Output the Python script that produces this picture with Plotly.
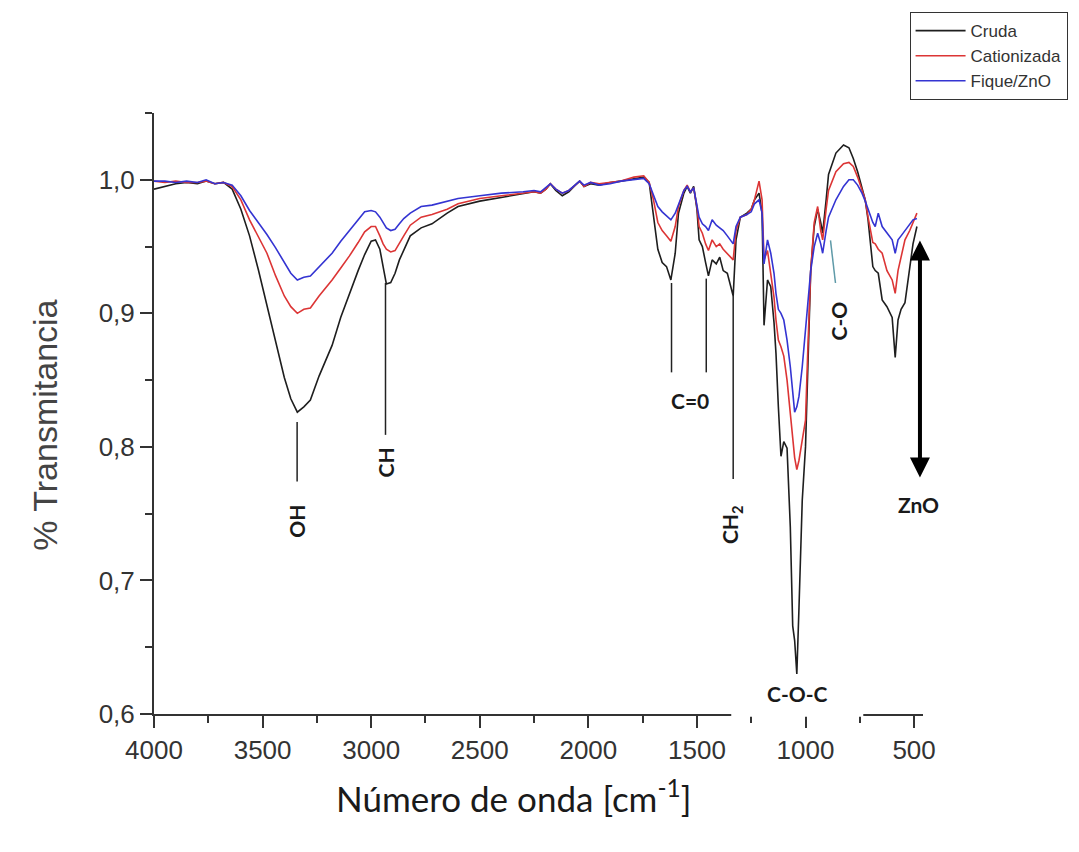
import plotly.graph_objects as go

# ---------------- data ----------------
wavenumber = [4000, 3950, 3900, 3850, 3800, 3760, 3720, 3680, 3640, 3600,
              3560, 3520, 3480, 3440, 3400, 3370, 3340, 3310, 3280, 3240,
              3180, 3140, 3100, 3060, 3030, 3000, 2980, 2960, 2945, 2930,
              2910, 2890, 2870, 2850, 2820, 2770, 2720, 2650, 2600, 2500,
              2400, 2300, 2250, 2220, 2195, 2175, 2150, 2120, 2090, 2060,
              2040, 2020, 1990, 1950, 1900, 1850, 1790, 1745, 1720, 1700,
              1680, 1660, 1640, 1620, 1600, 1585, 1560, 1545, 1530, 1515,
              1500, 1490, 1475, 1460, 1447, 1430, 1411, 1395, 1379, 1360,
              1345, 1333, 1320, 1300, 1270, 1250, 1235, 1214, 1200, 1191,
              1175, 1160, 1145, 1136, 1125, 1113, 1100, 1085, 1070, 1059,
              1050, 1040, 1030, 1015, 1000, 990, 976, 960, 944, 930,
              921, 905, 894, 860, 825, 800, 780, 760, 740, 725,
              712, 701, 690, 679, 665, 647, 625, 601, 587, 574,
              560, 542, 520, 505, 487]

cruda = [.993, .995, .997, .998, .997, .999, .997, .998, .993, .978,
         .958, .933, .906, .878, .852, .836, .826, .830, .835, .853,
         .876, .897, .915, .932, .944, .954, .955, .948, .935, .922,
         .923, .930, .940, .947, .958, .964, .967, .975, .980, .984,
         .987, .990, .991, .990, .993, .997, .992, .988, .991, .996,
         .999, .995, .997, .996, .998, .999, 1.001, 1.002, .998, .975,
         .948, .938, .935, .925, .945, .975, .990, .995, .990, .995,
         .978, .955, .950, .938, .928, .940, .937, .942, .932, .930,
         .920, .913, .955, .972, .975, .978, .985, .990, .975, .891,
         .925, .920, .893, .870, .830, .793, .804, .799, .740, .666,
         .655, .630, .680, .760, .800, .860, .932, .965, .978, .968,
         .960, .985, 1.004, 1.020, 1.026, 1.024, 1.016, 1.006, .995, .985,
         .970, .950, .935, .932, .930, .910, .905, .897, .867, .895,
         .903, .908, .935, .952, .965]

cationizada = [.999, .998, .999, .998, .998, .999, .997, .998, .995, .985,
               .970, .958, .945, .928, .913, .905, .900, .903, .904, .913,
               .925, .934, .943, .953, .961, .965, .965, .958, .952, .948,
               .946, .947, .953, .958, .966, .972, .974, .978, .982, .986,
               .988, .990, .991, .990, .993, .997, .993, .990, .992, .996,
               .999, .995, .998, .997, .998, .999, 1.002, 1.003, .998, .985,
               .968, .962, .958, .954, .965, .980, .992, .996, .991, .994,
               .980, .965, .960, .952, .947, .955, .950, .952, .948, .945,
               .942, .940, .962, .972, .974, .978, .985, .999, .985, .940,
               .947, .930, .912, .895, .880, .875, .868, .850, .825, .805,
               .792, .783, .790, .805, .820, .870, .932, .968, .980, .962,
               .955, .978, .992, 1.006, 1.012, 1.013, 1.010, 1.002, .993, .985,
               .972, .962, .953, .952, .948, .945, .932, .925, .915, .932,
               .942, .955, .962, .968, .975]

fique_zno = [.999, .999, .998, .999, .998, 1.000, .997, .998, .996, .988,
             .977, .968, .959, .949, .938, .930, .925, .927, .928, .935,
             .945, .954, .962, .970, .976, .977, .976, .972, .968, .964,
             .962, .963, .967, .971, .975, .980, .981, .984, .986, .988,
             .990, .991, .992, .991, .994, .997, .993, .990, .992, .996,
             .999, .996, .998, .996, .997, .999, 1.000, 1.001, .997, .988,
             .980, .976, .973, .970, .975, .982, .992, .995, .991, .994,
             .982, .972, .967, .965, .962, .970, .966, .964, .962, .958,
             .955, .952, .965, .972, .974, .976, .982, .985, .975, .937,
             .955, .945, .930, .915, .903, .900, .895, .880, .860, .840,
             .826, .830, .838, .860, .890, .905, .932, .950, .960, .952,
             .945, .962, .972, .985, .995, 1.000, 1.000, .996, .990, .984,
             .978, .972, .968, .965, .975, .965, .960, .955, .945, .955,
             .958, .962, .966, .970, .971]

series_names = ["Cruda", "Cationizada", "Fique/ZnO"]

# band marker lines (wavenumber, top value, bottom value)
band_wn = [3341, 2934, 1617, 1457, 1333]
band_top = [0.8186, 0.9227, 0.9227, 0.9260, 0.9130]
band_bottom = [0.7740, 0.8090, 0.8558, 0.8558, 0.7760]

# rotated band labels
rot_labels = ["OH", "CH", "CH<sub>2</sub>", "C-O"]
rot_wn = [3341, 2934, 1340, 850]
rot_y = [0.744, 0.788, 0.742, 0.894]

# horizontal labels
hor_labels = ["C=0", "C-O-C", "ZnO"]
hor_wn = [1530, 1036, 478]
hor_y = [0.835, 0.615, 0.757]

# C-O pointer line
co_wn = [885, 862]
co_val = [0.9546, 0.9227]

# ZnO double arrow
arrow_wn = 473
arrow_top = 0.9546
arrow_bottom = 0.776

colors = ["#1e1e1e", "#dc3535", "#3434d2"]

fig = go.Figure()
for name, vals, col in zip(series_names, [cruda, cationizada, fique_zno], colors):
    fig.add_trace(go.Scatter(x=wavenumber, y=vals, mode="lines", name=name,
                             line=dict(color=col, width=1.6)))

shapes = []
for w, t, b in zip(band_wn, band_top, band_bottom):
    shapes.append(dict(type="line", xref="x", yref="y", x0=w, x1=w, y0=t, y1=b,
                       line=dict(color="#222222", width=1.5)))
shapes.append(dict(type="line", xref="x", yref="y", x0=co_wn[0], x1=co_wn[1],
                   y0=co_val[0], y1=co_val[1], line=dict(color="#5f9aa8", width=1.5)))
# white patch over the axis line behind the C-O-C label (as in the original image)
shapes.append(dict(type="rect", xref="x", yref="paper", x0=1342, x1=734, y0=-0.0045, y1=0.0045,
                   fillcolor="white", line=dict(width=0), layer="above"))

label_font = dict(family="Lato", size=21, color="#1a1a1a")
annotations = []
for t, w, v in zip(rot_labels, rot_wn, rot_y):
    annotations.append(dict(x=w, y=v, xref="x", yref="y", text="<b>%s</b>" % t, showarrow=False,
                            textangle=-90, font=label_font))
for t, w, v in zip(hor_labels, hor_wn, hor_y):
    annotations.append(dict(x=w, y=v, xref="x", yref="y", text="<b>%s</b>" % t, showarrow=False,
                            font=label_font))
annotations.append(dict(x=arrow_wn, y=arrow_top, ax=arrow_wn, ay=arrow_bottom, xref="x", yref="y",
                        axref="x", ayref="y", text="", showarrow=True, arrowhead=2, arrowsize=1,
                        arrowwidth=4, arrowcolor="#000000", arrowside="end+start", standoff=0,
                        startstandoff=0))
# axis titles
annotations.append(dict(x=-0.17, y=0.48, xref="paper", yref="paper", text="% Transmitancia",
                        showarrow=False, textangle=-90,
                        font=dict(family="Liberation Sans", size=34, color="#444444")))
annotations.append(dict(x=0.467, y=-0.178, xref="paper", yref="paper",
                        text="Número de onda [cm<sup>-1</sup>]", showarrow=False,
                        font=dict(family="Lato", size=35, color="#1a1a1a")))

fig.update_layout(
    width=1079, height=852,
    margin=dict(l=154, r=151, t=108, b=138),
    paper_bgcolor="white", plot_bgcolor="white",
    separators=",.",
    showlegend=True,
    legend=dict(x=1.188, y=1.168, xanchor="right", yanchor="top",
                bordercolor="#333333", borderwidth=1, bgcolor="white",
                font=dict(family="Liberation Sans", size=17, color="#333333"),
                tracegroupgap=0, itemwidth=50),
    shapes=shapes,
    annotations=annotations,
)
fig.update_xaxes(range=[4000, 459], dtick=500, tick0=0, tickformat="d",
                 showline=True, linecolor="#333333", linewidth=2,
                 ticks="outside", ticklen=12, tickwidth=2, tickcolor="#333333",
                 minor=dict(ticks="outside", ticklen=7, dtick=250, tick0=0, tickwidth=2, tickcolor="#333333"),
                 showgrid=False, zeroline=False,
                 tickfont=dict(family="Liberation Sans", size=26, color="#333333"))
fig.update_yaxes(range=[0.6, 1.05], dtick=0.1, tick0=0.6, tickformat=".1f",
                 showline=True, linecolor="#333333", linewidth=2,
                 ticks="outside", ticklen=12, tickwidth=2, tickcolor="#333333",
                 minor=dict(ticks="outside", ticklen=7, dtick=0.05, tick0=0.6, tickwidth=2, tickcolor="#333333"),
                 showgrid=False, zeroline=False,
                 tickfont=dict(family="Liberation Sans", size=26, color="#333333"))

fig.write_html("out.html")
